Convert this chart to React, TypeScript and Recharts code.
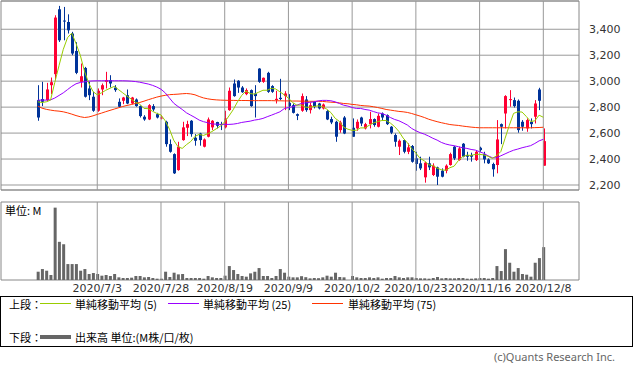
import React from 'react';
import {
  ComposedChart,
  Bar,
  Line,
  XAxis,
  YAxis,
  CartesianGrid,
  ReferenceLine,
  ReferenceArea,
} from 'recharts';

// trading days (10/1 had no trading: TSE outage)
const dates = [
  '2020/6/15', '2020/6/16', '2020/6/17', '2020/6/18', '2020/6/19', '2020/6/22', '2020/6/23', '2020/6/24',
  '2020/6/25', '2020/6/26', '2020/6/29', '2020/6/30', '2020/7/1', '2020/7/2', '2020/7/3', '2020/7/6',
  '2020/7/7', '2020/7/8', '2020/7/9', '2020/7/10', '2020/7/13', '2020/7/14', '2020/7/15', '2020/7/16',
  '2020/7/17', '2020/7/20', '2020/7/21', '2020/7/22', '2020/7/27', '2020/7/28', '2020/7/29', '2020/7/30',
  '2020/7/31', '2020/8/3', '2020/8/4', '2020/8/5', '2020/8/6', '2020/8/7', '2020/8/11', '2020/8/12',
  '2020/8/13', '2020/8/14', '2020/8/17', '2020/8/18', '2020/8/19', '2020/8/20', '2020/8/21', '2020/8/24',
  '2020/8/25', '2020/8/26', '2020/8/27', '2020/8/28', '2020/8/31', '2020/9/1', '2020/9/2', '2020/9/3',
  '2020/9/4', '2020/9/7', '2020/9/8', '2020/9/9', '2020/9/10', '2020/9/11', '2020/9/14', '2020/9/15',
  '2020/9/16', '2020/9/17', '2020/9/18', '2020/9/23', '2020/9/24', '2020/9/25', '2020/9/28', '2020/9/29',
  '2020/9/30', '2020/10/1', '2020/10/2', '2020/10/5', '2020/10/6', '2020/10/7', '2020/10/8', '2020/10/9',
  '2020/10/12', '2020/10/13', '2020/10/14', '2020/10/15', '2020/10/16', '2020/10/19', '2020/10/20', '2020/10/21',
  '2020/10/22', '2020/10/23', '2020/10/26', '2020/10/27', '2020/10/28', '2020/10/29', '2020/10/30', '2020/11/2',
  '2020/11/4', '2020/11/5', '2020/11/6', '2020/11/9', '2020/11/10', '2020/11/11', '2020/11/12', '2020/11/13',
  '2020/11/16', '2020/11/17', '2020/11/18', '2020/11/19', '2020/11/20', '2020/11/24', '2020/11/25', '2020/11/26',
  '2020/11/27', '2020/11/30', '2020/12/1', '2020/12/2', '2020/12/3', '2020/12/4', '2020/12/7', '2020/12/8',
];

const tickDates = ['2020/7/3', '2020/7/28', '2020/8/19', '2020/9/9', '2020/10/2', '2020/10/23', '2020/11/16', '2020/12/8'];
const priceTicks = [2200, 2400, 2600, 2800, 3000, 3200, 3400];

const opens = [
  2854, 2862, 2854, 2969, 3054, 3554, 3467, 3456, 3367, 3233, 2995, 3102, 2944, 2880, 2772, 2936,
  2995, 3008, 2951, 2841, 2849, 2892, 2828, 2859, 2808, 2726, 2705, 2808, 2746, 2713, 2687, 2515,
  2438, 2315, 2546, 2641, 2695, 2564, 2597, 2495, 2572, 2644, 2685, 2669, 2644, 2777, 2982, 3003,
  2951, 2900, 2931, 2905, 3097, 2995, 3064, 2962, 2854, 2872, 2885, 2833, 2815, 2746, 2772, 2859,
  2777, 2841, 2828, 2790, 2769, 2708, 2687, 2623, 2720, null, 2641, 2636, 2720, 2636, 2669, 2708,
  2649, 2751, 2738, 2649, 2585, 2495, 2546, 2456, 2500, 2405, 2367, 2259, 2367, 2277, 2336, 2310,
  2310, 2354, 2495, 2392, 2518, 2431, 2431, 2392, 2487, 2438, 2397, 2362, 2354, 2669, 2751, 2854,
  2854, 2849, 2687, 2636, 2687, 2726, 2936, 2349,
];
const highs = [
  2969, 2995, 2987, 3028, 3508, 3580, 3572, 3515, 3380, 3300, 3136, 3110, 2995, 2918, 2944, 2982,
  3072, 3046, 2969, 2867, 2879, 2936, 2879, 2867, 2813, 2738, 2823, 2823, 2756, 2738, 2695, 2551,
  2444, 2533, 2687, 2695, 2700, 2592, 2602, 2559, 2720, 2700, 2687, 2687, 2772, 2951, 3013, 3008,
  2962, 2944, 2936, 2969, 3100, 3028, 3072, 2969, 2926, 3018, 2923, 2900, 2828, 2751, 2905, 2885,
  2833, 2846, 2833, 2828, 2777, 2726, 2695, 2695, 2731, null, 2713, 2705, 2726, 2679, 2764, 2713,
  2751, 2759, 2744, 2654, 2597, 2551, 2551, 2521, 2508, 2456, 2418, 2380, 2418, 2367, 2341, 2328,
  2359, 2449, 2500, 2495, 2523, 2456, 2449, 2464, 2495, 2456, 2405, 2372, 2700, 2674, 2892, 2931,
  2874, 2859, 2700, 2713, 2713, 2854, 2949, 2636,
];
const lows = [
  2695, 2808, 2845, 2900, 3008, 3302, 3315, 3367, 3200, 3054, 2951, 2874, 2854, 2764, 2764, 2892,
  2944, 2951, 2918, 2797, 2823, 2823, 2823, 2803, 2720, 2695, 2700, 2769, 2713, 2705, 2495, 2449,
  2285, 2310, 2541, 2577, 2572, 2503, 2503, 2490, 2567, 2623, 2636, 2623, 2636, 2772, 2880, 2910,
  2910, 2892, 2803, 2720, 2987, 2987, 2910, 2910, 2828, 2854, 2777, 2777, 2751, 2700, 2764, 2764,
  2751, 2790, 2782, 2782, 2700, 2669, 2533, 2603, 2592, null, 2572, 2618, 2654, 2628, 2636, 2649,
  2644, 2700, 2662, 2592, 2495, 2431, 2444, 2438, 2372, 2310, 2315, 2218, 2315, 2269, 2200, 2259,
  2290, 2349, 2392, 2387, 2413, 2387, 2380, 2385, 2456, 2367, 2362, 2264, 2290, 2515, 2636, 2803,
  2797, 2603, 2618, 2610, 2636, 2674, 2777, 2349,
];
const closes = [
  2720, 2841, 2936, 2992, 3490, 3315, 3462, 3392, 3213, 3064, 3038, 2880, 2892, 2772, 2926, 2969,
  3008, 2982, 2931, 2803, 2874, 2828, 2874, 2808, 2731, 2705, 2815, 2782, 2720, 2720, 2515, 2456,
  2290, 2495, 2644, 2669, 2592, 2541, 2546, 2551, 2705, 2695, 2656, 2662, 2713, 2926, 2885, 2951,
  2915, 2931, 2808, 2885, 2995, 3026, 2918, 2918, 2864, 2862, 2905, 2808, 2756, 2733, 2885, 2777,
  2815, 2803, 2790, 2820, 2705, 2682, 2572, 2682, 2597, null, 2572, 2687, 2674, 2669, 2708, 2662,
  2733, 2720, 2669, 2603, 2533, 2541, 2456, 2490, 2379, 2362, 2328, 2372, 2336, 2349, 2264, 2264,
  2349, 2438, 2405, 2482, 2418, 2418, 2418, 2456, 2469, 2397, 2367, 2321, 2551, 2649, 2885, 2862,
  2808, 2623, 2649, 2700, 2669, 2828, 2849, 2538,
];

const ma5 = [
  2841, 2836, 2841, 2854, 2990, 3120, 3245, 3335, 3370, 3290, 3200, 3075, 2985, 2920, 2895, 2910,
  2930, 2945, 2960, 2935, 2910, 2885, 2862, 2838, 2823, 2790, 2788, 2768, 2752, 2740, 2695, 2630,
  2545, 2495, 2482, 2511, 2535, 2575, 2590, 2582, 2595, 2612, 2633, 2654, 2686, 2732, 2780, 2840,
  2890, 2924, 2905, 2900, 2915, 2930, 2930, 2945, 2940, 2918, 2895, 2870, 2835, 2815, 2816, 2800,
  2798, 2805, 2810, 2805, 2785, 2758, 2714, 2690, 2645, 2630, 2621, 2622, 2640, 2640, 2660, 2678,
  2688, 2697, 2697, 2677, 2650, 2613, 2562, 2525, 2482, 2446, 2405, 2386, 2356, 2349, 2330, 2318,
  2313, 2333, 2345, 2388, 2418, 2430, 2428, 2436, 2436, 2432, 2421, 2405, 2425, 2458, 2560, 2660,
  2752, 2764, 2762, 2728, 2690, 2694, 2738, 2722,
];
const ma25 = [
  2854, 2854, 2854, 2856, 2870, 2890, 2910, 2935, 2960, 2980, 2990, 2995, 3000, 3002, 3003, 3003,
  3003, 3003, 3003, 3003, 3003, 3002, 3000, 2997, 2992, 2985, 2978, 2968, 2955, 2938, 2910, 2870,
  2830, 2805, 2782, 2756, 2738, 2720, 2700, 2688, 2680, 2670, 2669, 2667, 2667, 2667, 2669, 2674,
  2682, 2687, 2692, 2700, 2705, 2713, 2726, 2738, 2751, 2764, 2788, 2797, 2803, 2815, 2828, 2833,
  2836, 2841, 2848, 2852, 2852, 2849, 2841, 2828, 2815, 2808, 2797, 2790, 2790, 2782, 2777, 2766,
  2756, 2751, 2738, 2720, 2705, 2695, 2679, 2662, 2636, 2618, 2603, 2592, 2577, 2560, 2546, 2528,
  2516, 2508, 2503, 2495, 2487, 2482, 2474, 2469, 2456, 2444, 2425, 2410, 2410, 2425, 2440, 2455,
  2468, 2477, 2487, 2495, 2503, 2520, 2540, 2552,
];
const ma75 = [
  2808, 2792, 2783, 2777, 2772, 2769, 2764, 2756, 2746, 2735, 2726, 2720, 2724, 2733, 2744, 2754,
  2765, 2775, 2785, 2795, 2805, 2813, 2820, 2828, 2836, 2846, 2857, 2867, 2877, 2885, 2891, 2896,
  2898, 2900, 2903, 2905, 2902, 2895, 2882, 2871, 2864, 2859, 2856, 2854, 2853, 2852, 2852, 2851,
  2851, 2851, 2850, 2850, 2850, 2850, 2850, 2850, 2849, 2849, 2848, 2848, 2847, 2847, 2846, 2846,
  2845, 2845, 2845, 2844, 2841, 2838, 2836, 2833, 2828, 2826, 2821, 2818, 2813, 2810, 2808, 2803,
  2797, 2790, 2782, 2777, 2772, 2767, 2764, 2759, 2751, 2741, 2731, 2720, 2707, 2697, 2688, 2680,
  2673, 2666, 2662, 2659, 2654, 2650, 2646, 2643, 2641, 2641, 2641, 2641, 2641, 2641, 2641, 2641,
  2641, 2641, 2641, 2641, 2641, 2642, 2643, 2645,
];

// volume (relative units)
const volumes = [
  250, 330, 280, 150, 2180, 1150, 1080, 480, 480, 480, 280, 330, 180, 210, 180, 130,
  150, 120, 180, 80, 60, 60, 70, 120, 120, 80, 90, 60, 40, 40, 250, 90,
  220, 170, 180, 60, 60, 60, 60, 40, 120, 80, 60, 60, 130, 420, 300, 180,
  120, 100, 200, 250, 360, 120, 120, 60, 120, 330, 220, 100, 80, 80, 115, 85,
  50, 60, 55, 80, 130, 100, 220, 90, 80, null, 120, 80, 60, 60, 80, 60,
  80, 40, 60, 60, 120, 80, 60, 80, 80, 60, 50, 50, 40, 60, 90, 50,
  60, 50, 50, 60, 60, 40, 40, 50, 60, 60, 40, 60, 420, 270, 930, 520,
  250, 360, 180, 160, 100, 520, 660, 990,
];

const RED = '#FF0033';
const BLUE = '#003399';
const GRID = '#999999';
const X_MIN = -8.66;
const X_MAX = 127.4;
const P_MIN = 2161.5;
const P_MAX = 3617.7;
const V_MAX = 2350;

const rows = dates.map((date, i) => ({
  i,
  date,
  open: opens[i],
  high: highs[i],
  low: lows[i],
  close: closes[i],
  ma5: ma5[i],
  ma25: ma25[i],
  ma75: ma75[i],
  vol: volumes[i],
}));

const tickIdx = tickDates.map((d) => dates.indexOf(d));

const Candle = (props: any) => {
  const { x, y, width, height, payload } = props;
  if (!payload || payload.open == null || height == null) return <g />;
  const top = Math.min(y, y + height);
  const bottom = Math.max(y, y + height);
  const k = (bottom - top) / (payload.high - payload.low);
  const py = (v: number) => top + (payload.high - v) * k;
  const up = payload.close >= payload.open;
  const color = up ? RED : BLUE;
  const c = Math.round(x + width / 2);
  const bTop = py(Math.max(payload.open, payload.close));
  const bBot = py(Math.min(payload.open, payload.close));
  return (
    <g>
      <line x1={c + 0.5} x2={c + 0.5} y1={top} y2={bottom} stroke={color} strokeWidth={1} />
      <rect x={c - 1} y={bTop} width={3} height={Math.max(1, bBot - bTop)} fill={color} />
    </g>
  );
};

const tickStyle = { fontSize: 11, fill: '#333', fontFamily: 'DejaVu Sans' };
const jp = '"Noto Sans CJK JP", "Noto Sans", sans-serif';

export default function App() {
  return (
    <div style={{ position: 'absolute', left: 0, top: 0, width: 633, height: 375, background: '#fff', fontFamily: jp }}>
      {/* price panel */}
      <div style={{ position: 'absolute', left: 0, top: 0 }}>
        <ComposedChart width={633} height={191} data={rows} margin={{ top: 1, right: 0, left: 1, bottom: 1 }}>
          <XAxis dataKey="i" type="number" domain={[X_MIN, X_MAX]} allowDataOverflow hide />
          <YAxis
            orientation="right"
            width={54}
            domain={[P_MIN, P_MAX]}
            allowDataOverflow
            ticks={priceTicks}
            interval={0}
            tickFormatter={(v) => Number(v).toLocaleString('en-US')}
            tick={tickStyle}
            axisLine={false}
            tickLine={false}
            tickSize={0}
            tickMargin={10}
          />
          <CartesianGrid vertical={false} stroke={GRID} />
          {tickIdx.map((t) => (
            <ReferenceLine key={t} x={t} stroke={GRID} />
          ))}
          <ReferenceArea x1={X_MIN} x2={X_MAX} y1={P_MIN} y2={P_MAX} fill="none" stroke="#888" />
          <Bar
            dataKey={(d: any) => (d.low == null ? null : [d.low, d.high])}
            shape={Candle}
            barSize={3}
            isAnimationActive={false}
          />
          <Line dataKey="ma75" stroke="#FF3300" strokeWidth={1} dot={false} isAnimationActive={false} />
          <Line dataKey="ma25" stroke="#9900FF" strokeWidth={1} dot={false} isAnimationActive={false} />
          <Line dataKey="ma5" stroke="#99CC00" strokeWidth={1} dot={false} isAnimationActive={false} />
        </ComposedChart>
      </div>

      {/* volume panel */}
      <div style={{ position: 'absolute', left: 0, top: 190 }}>
        <ComposedChart width={633} height={110} data={rows} margin={{ top: 12, right: 54, left: 1, bottom: 2 }}>
          <XAxis
            dataKey="i"
            type="number"
            domain={[X_MIN, X_MAX]}
            allowDataOverflow
            ticks={tickIdx}
            interval={0}
            tickFormatter={(v) => dates[v] ?? ''}
            tick={tickStyle}
            axisLine={false}
            tickLine={false}
            tickSize={0}
            tickMargin={4}
            height={18}
          />
          <YAxis hide domain={[0, V_MAX]} allowDataOverflow />
          {tickIdx.map((t) => (
            <ReferenceLine key={t} x={t} stroke={GRID} />
          ))}
          <ReferenceArea x1={X_MIN} x2={X_MAX} y1={0} y2={V_MAX} fill="none" stroke="#888" />
          <Bar dataKey="vol" fill="#666666" barSize={3} isAnimationActive={false} />
        </ComposedChart>
        <div style={{ position: 'absolute', left: 5, top: 12, fontSize: 11, color: '#000', lineHeight: '16px' }}>
          単位: M
        </div>
      </div>

      {/* legend */}
      <div
        style={{
          position: 'absolute',
          left: 0,
          top: 296,
          width: 631,
          height: 49,
          border: '1px solid #000',
          fontSize: 11,
          color: '#000',
        }}
      >
        <div style={{ position: 'absolute', left: 8, top: -1, lineHeight: '16px' }}>上段：</div>
        <div style={{ position: 'absolute', left: 39, top: 6, width: 31, height: 1, background: '#99CC00' }} />
        <div style={{ position: 'absolute', left: 74, top: -1, lineHeight: '16px' }}>単純移動平均 (5)</div>
        <div style={{ position: 'absolute', left: 167, top: 6, width: 31, height: 1, background: '#9900FF' }} />
        <div style={{ position: 'absolute', left: 202, top: -1, lineHeight: '16px' }}>単純移動平均 (25)</div>
        <div style={{ position: 'absolute', left: 311, top: 6, width: 31, height: 1, background: '#FF3300' }} />
        <div style={{ position: 'absolute', left: 347, top: -1, lineHeight: '16px' }}>単純移動平均 (75)</div>

        <div style={{ position: 'absolute', left: 8, top: 32, lineHeight: '16px' }}>下段：</div>
        <div style={{ position: 'absolute', left: 39, top: 38, width: 31, height: 4, background: '#666666' }} />
        <div style={{ position: 'absolute', left: 74, top: 32, lineHeight: '16px' }}>出来高 単位:(M株/口/枚)</div>
      </div>

      <div
        style={{
          position: 'absolute',
          right: 18,
          top: 349,
          fontSize: 11,
          color: '#666',
          lineHeight: '16px',
          fontFamily: '"Noto Sans", sans-serif',
        }}
      >
        (c)Quants Research Inc.
      </div>
    </div>
  );
}
